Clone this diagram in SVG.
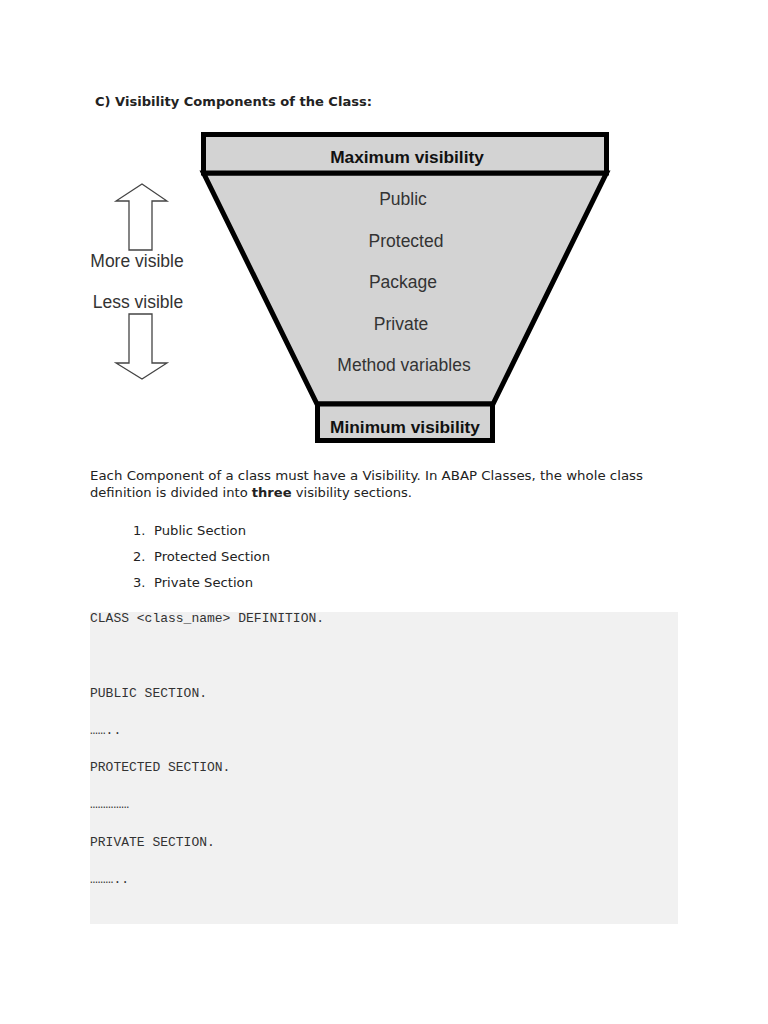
<svg xmlns="http://www.w3.org/2000/svg" width="768" height="1024" viewBox="0 0 768 1024">
<style>
.verd{font-family:"DejaVu Sans","Noto Sans",sans-serif;font-size:13px;fill:#222}
.fun{font-family:"Liberation Sans",Arial,sans-serif;font-size:17.5px;fill:#333;text-anchor:middle}
.funb{font-family:"Liberation Sans",Arial,sans-serif;font-size:17.3px;font-weight:bold;fill:#111;text-anchor:middle}
.code{font-family:"Liberation Mono","Courier New",monospace;font-size:13px;fill:#333}
.arr{fill:#fff;stroke:#444;stroke-width:1.3}
</style>
<rect x="0" y="0" width="768" height="1024" fill="#fff"/>
<text class="verd" x="95" y="106" font-size="13.5" font-weight="bold" textLength="277" lengthAdjust="spacingAndGlyphs">C) Visibility Components of the Class:</text>

<g id="funnel">
<polygon points="203.5,173 606.5,173 493,404 317,404" fill="#d3d3d3" stroke="#000" stroke-width="5" stroke-linejoin="miter"/>
<rect x="203.5" y="134.5" width="403" height="38.5" fill="#d3d3d3" stroke="#000" stroke-width="5"/>
<rect x="317.5" y="404" width="175" height="36.5" fill="#d3d3d3" stroke="#000" stroke-width="5"/>
<text class="funb" x="407" y="163">Maximum visibility</text>
<text class="fun" x="403" y="205">Public</text>
<text class="fun" x="406" y="247">Protected</text>
<text class="fun" x="403" y="288">Package</text>
<text class="fun" x="401" y="330">Private</text>
<text class="fun" x="404" y="371">Method variables</text>
<text class="funb" x="405" y="433">Minimum visibility</text>
</g>

<g id="arrow-up">
<polygon class="arr" points="142,184 167,201 152,201 152,250 129,250 129,201 116,201"/>
<text class="fun" x="137" y="267">More visible</text>
</g>
<g id="arrow-down">
<text class="fun" x="138" y="308">Less visible</text>
<polygon class="arr" points="129,314 152,314 152,363 167,363 142,379 116,363 129,363"/>
</g>

<g id="paragraph">
<text class="verd" x="90" y="480" textLength="553" lengthAdjust="spacingAndGlyphs">Each Component of a class must have a Visibility. In ABAP Classes, the whole class</text>
<text class="verd" x="90" y="497" textLength="322" lengthAdjust="spacingAndGlyphs">definition is divided into <tspan font-weight="bold">three</tspan> visibility sections.</text>
<text class="verd" x="133" y="535">1.</text><text class="verd" x="154" y="535" textLength="92" lengthAdjust="spacingAndGlyphs">Public Section</text>
<text class="verd" x="133" y="561">2.</text><text class="verd" x="154" y="561" textLength="116" lengthAdjust="spacingAndGlyphs">Protected Section</text>
<text class="verd" x="133" y="587">3.</text><text class="verd" x="154" y="587" textLength="99" lengthAdjust="spacingAndGlyphs">Private Section</text>
</g>

<g id="code">
<rect x="90" y="612" width="588" height="312" fill="#f1f1f1"/>
<text class="code" x="90" y="622">CLASS &lt;class_name&gt; DEFINITION.</text>
<text class="code" x="90" y="697">PUBLIC SECTION.</text>
<text class="code" x="90" y="734">……..</text>
<text class="code" x="90" y="771">PROTECTED SECTION.</text>
<text class="code" x="90" y="808">……………</text>
<text class="code" x="90" y="846">PRIVATE SECTION.</text>
<text class="code" x="90" y="883">………..</text>
</g>
</svg>
